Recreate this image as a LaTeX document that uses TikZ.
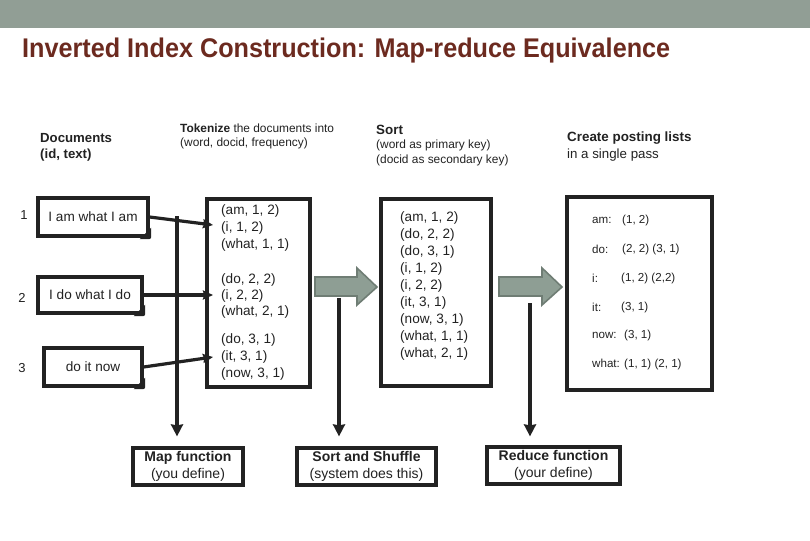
\documentclass[tikz,border=0pt]{standalone}
\usepackage{fontspec}
\setmainfont{Liberation Sans}
\usetikzlibrary{arrows.meta}
\definecolor{band}{HTML}{919E95}
\definecolor{titlered}{HTML}{6C2A1F}
\definecolor{ink}{HTML}{222222}
\definecolor{garrowfill}{HTML}{8E9E94}
\definecolor{garrowdraw}{HTML}{6F7D74}
\tikzset{
  x=1pt, y=-1pt,
  thickbox/.style={draw=ink, line width=3.2pt, inner sep=0pt},
  docbox/.style={thickbox, text=ink, font=\fontsize{13.6}{15}\selectfont},
  tup/.style={anchor=west, inner sep=0pt, text=ink, font=\fontsize{13.6}{15}\selectfont},
  post/.style={anchor=west, inner sep=0pt, text=ink, font=\fontsize{11.6}{13}\selectfont},
  lbl/.style={anchor=west, inner sep=0pt, text=ink, font=\fontsize{11.9}{13}\selectfont},
  lblb/.style={anchor=west, inner sep=0pt, text=ink, font=\fontsize{13.4}{15}\selectfont\bfseries},
  link/.style={draw=ink, line width=3.2pt},
  linkarrow/.style={link, -{Stealth[length=10pt,width=9pt,inset=1pt]}},
  downarrow/.style={link, -{Stealth[length=12pt,width=12pt,inset=1pt]}},
  funcbox/.style={thickbox, align=center, text=ink, font=\fontsize{14}{16.5}\selectfont},
  garrow/.style={fill=garrowfill, draw=garrowdraw, line width=1.6pt, line join=miter},
  foldcorner/.style={fill=ink}
}
\begin{document}
\begin{tikzpicture}
\useasboundingbox (0,0) rectangle (810,540);
\fill[white] (0,0) rectangle (810,540);
% top band
\fill[band] (0,0) rectangle (810,28);
% title
\node[anchor=base west, inner sep=0pt, text=titlered] (title) at (22,58)
  {\resizebox{648pt}{\height}{\fontsize{27}{30}\selectfont\bfseries Inverted Index Construction: Map-reduce Equivalence}};

% headers
\node[lblb, font=\fontsize{13.2}{15}\selectfont\bfseries] (hdoc1) at (40,138) {Documents};
\node[lblb, font=\fontsize{13.2}{15}\selectfont\bfseries] (hdoc2) at (40,155) {(id, text)};
\node[lbl] (htok1) at (180,128) {\textbf{Tokenize} the documents into};
\node[lbl] (htok2) at (180,143) {(word, docid, frequency)};
\node[lblb] (hsort1) at (376,130) {Sort};
\node[lbl] (hsort2) at (376,145) {(word as primary key)};
\node[lbl] (hsort3) at (376,160) {(docid as secondary key)};
\node[lblb] (hpost1) at (567,138) {Create posting lists};
\node[anchor=west, inner sep=0pt, text=ink, font=\fontsize{13.3}{15}\selectfont] (hpost2) at (567,155) {in a single pass};

% document numbers
\node[inner sep=0pt, text=ink, font=\fontsize{13}{15}\selectfont] (n1) at (24,215) {1};
\node[inner sep=0pt, text=ink, font=\fontsize{13}{15}\selectfont] (n2) at (22,298) {2};
\node[inner sep=0pt, text=ink, font=\fontsize{13}{15}\selectfont] (n3) at (22,368) {3};

% document boxes
\node[docbox, minimum width=110pt, minimum height=38pt] (d1) at (93,217) {I am what I am};
\node[docbox, minimum width=104pt, minimum height=36pt] (d2) at (90,295) {I do what I do};
\node[docbox, minimum width=98pt, minimum height=38pt] (d3) at (93,367) {do it now};
\foreach \d in {d1,d2,d3}{
  \fill[foldcorner] ([xshift=-10pt,yshift=-1.6pt]\d.south east) -- ([xshift=1.6pt,yshift=10pt]\d.south east) -- ([xshift=1.6pt,yshift=-1.6pt]\d.south east) -- cycle;
  \fill[white] ([xshift=-1pt,yshift=-3pt]\d.south east) -- ([xshift=3pt,yshift=1pt]\d.south east) -- ([xshift=3pt,yshift=-3pt]\d.south east) -- cycle;
}

% tokenize box
\node[thickbox, minimum width=103pt, minimum height=188pt] (tok) at (258.5,293) {};
\node[tup] (t11) at (221,211) {(am, 1, 2)};
\node[tup] (t12) at (221,228) {(i, 1, 2)};
\node[tup] (t13) at (221,245) {(what, 1, 1)};
\node[tup] (t21) at (221,280) {(do, 2, 2)};
\node[tup] (t22) at (221,296) {(i, 2, 2)};
\node[tup] (t23) at (221,312) {(what, 2, 1)};
\node[tup] (t31) at (221,340) {(do, 3, 1)};
\node[tup] (t32) at (221,357) {(it, 3, 1)};
\node[tup] (t33) at (221,374) {(now, 3, 1)};

% sort box
\node[thickbox, minimum width=110pt, minimum height=187pt] (sortb) at (436,292.5) {};
\foreach \t [count=\i from 0] in {{(am, 1, 2)},{(do, 2, 2)},{(do, 3, 1)},{(i, 1, 2)},{(i, 2, 2)},{(it, 3, 1)},{(now, 3, 1)},{(what, 1, 1)},{(what, 2, 1)}}{
  \node[tup] (s\i) at (400,{218+17*\i}) {\t};
}

% posting box
\node[thickbox, minimum width=145pt, minimum height=193pt] (postb) at (639.5,293.5) {};
\node[post] (pa) at (592,220) {am:};   \node[post] (pa2) at (622,220) {(1, 2)};
\node[post] (pd) at (592,249) {do:};   \node[post] (pd2) at (622,249) {(2, 2) (3, 1)};
\node[post] (pi) at (592,278) {i:};    \node[post] (pi2) at (621,278) {(1, 2) (2,2)};
\node[post] (pt) at (592,307) {it:};   \node[post] (pt2) at (621,307) {(3, 1)};
\node[post] (pn) at (592,335) {now:};  \node[post] (pn2) at (624,335) {(3, 1)};
\node[post] (pw) at (592,364) {what: (1, 1) (2, 1)};

% grey arrows
\draw[garrow] (315,277) -- (357,277) -- (357,268) -- (377,287) -- (357,305) -- (357,296) -- (315,296) -- cycle;
\draw[garrow] (499,277) -- (542,277) -- (542,268) -- (562,287) -- (542,305) -- (542,296) -- (499,296) -- cycle;

% function boxes
\node[funcbox, minimum width=110pt, minimum height=37pt] (mapf) at (188,466.5) {\textbf{Map function}\\(you define)};
\node[funcbox, minimum width=139pt, minimum height=37pt] (shuf) at (366.5,466.5) {\textbf{Sort and Shuffle}\\(system does this)};
\node[funcbox, minimum width=133pt, minimum height=37pt] (redf) at (553.5,465.5) {\textbf{Reduce function}\\(your define)};

% connectors docs -> tokenize
\coordinate (e1) at (213,225);
\coordinate (e2) at (213,295);
\coordinate (e3) at (213,357);
\draw[linkarrow] (d1.east) -- (e1);
\draw[linkarrow] (d2.east) -- (e2);
\draw[linkarrow] (d3.east) -- (e3);

% vertical arrows to function boxes
\coordinate (v1) at (177,216);
\coordinate (v2) at (339,298);
\coordinate (v3) at (530,303);
\draw[downarrow, shorten >=10pt] (v1) -- (v1 |- mapf.north);
\draw[downarrow, shorten >=10pt] (v2) -- (v2 |- shuf.north);
\draw[downarrow, shorten >=9pt] (v3) -- (v3 |- redf.north);
\end{tikzpicture}
\end{document}
